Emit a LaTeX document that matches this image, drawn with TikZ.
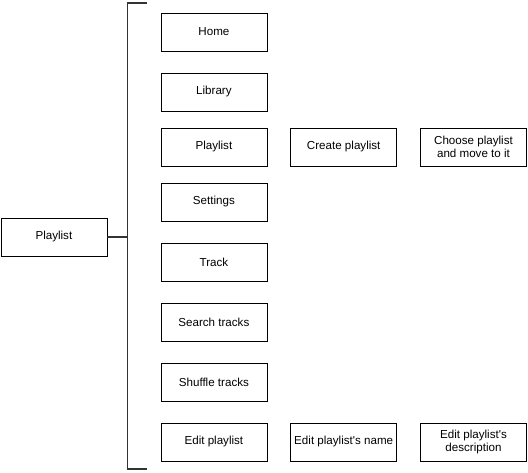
\documentclass[tikz,border=0pt]{standalone}
\usepackage{fontspec}
\setmainfont{Liberation Sans}
\usetikzlibrary{positioning}

\begin{document}
\begin{tikzpicture}[x=1pt,y=-1pt,
  menubox/.style={draw=black,line width=0.8pt,minimum width=106pt,minimum height=38pt,
    inner sep=1pt,align=center,font=\fontsize{11.6}{13.5}\selectfont},
  brace/.style={draw=black!80,line width=1.8pt}]
\useasboundingbox (0,0) rectangle (528,472);
\node[menubox,anchor=north west] (root) at (0.5,217.5) {Playlist};
% first column
\node[menubox,anchor=north west] (home) at (160.5,12.5) {Home};
\node[menubox,anchor=north west] (library) at (160.5,72.5) {Library};
\node[menubox,anchor=north west] (playlist) at (160.5,127.5) {Playlist};
\node[menubox,anchor=north west] (settings) at (160.5,182.5) {Settings};
\node[menubox,anchor=north west] (track) at (160.5,242.5) {Track};
\node[menubox,anchor=north west] (search) at (160.5,302.5) {Search tracks};
\node[menubox,anchor=north west] (shuffle) at (160.5,362.5) {Shuffle tracks};
\node[menubox,anchor=north west] (edit) at (160.5,422.5) {Edit playlist};
% second and third column
\node[menubox,right=23pt of playlist] (create) {Create playlist};
\node[menubox,right=23pt of create] (choose) {Choose playlist\\and move to it};
\node[menubox,right=23pt of edit] (editname) {Edit playlist\textquotesingle s name};
\node[menubox,right=23pt of editname] (editdesc) {Edit playlist\textquotesingle s\\description};
% bracket
\coordinate (top) at (147,3);
\coordinate (bot) at (147,469);
\coordinate (mid) at (127.5,237);
\draw[brace] (top) -| (mid) |- (bot);
\draw[brace] (root.east) -- (mid);
\end{tikzpicture}
\end{document}
